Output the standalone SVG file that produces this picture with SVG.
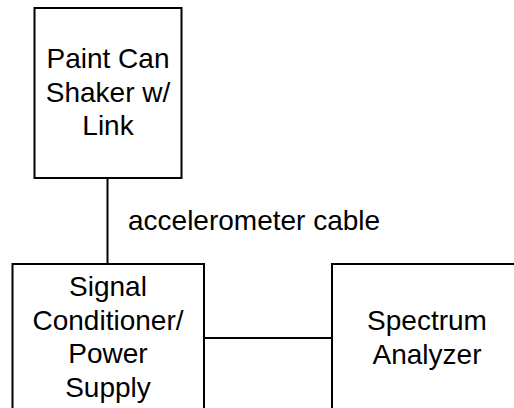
<svg xmlns="http://www.w3.org/2000/svg" width="514" height="408" viewBox="0 0 514 408">
<style>
.box{fill:#fff;stroke:#000;stroke-width:2}
.wire{fill:none;stroke:#000;stroke-width:2}
text{font-family:"Liberation Sans",Arial,sans-serif;font-size:28px;fill:#000}
.c{text-anchor:middle}
</style>
<rect width="514" height="408" fill="#fff"/>
<g id="connectors">
<line class="wire" x1="107.5" y1="178" x2="107.5" y2="264"/>
<line class="wire" x1="204" y1="338" x2="332" y2="338"/>
<text x="128" y="230">accelerometer cable</text>
</g>
<g id="shaker">
<rect class="box" x="34.5" y="8" width="147" height="170"/>
<text class="c" x="108" y="68">Paint Can</text>
<text class="c" x="108" y="101.5">Shaker w/</text>
<text class="c" x="108" y="135">Link</text>
</g>
<g id="conditioner">
<rect class="box" x="12.5" y="264" width="191.5" height="160"/>
<text class="c" x="108" y="296">Signal</text>
<text class="c" x="108" y="329.5">Conditioner/</text>
<text class="c" x="108" y="363">Power</text>
<text class="c" x="108" y="396.5">Supply</text>
</g>
<g id="analyzer">
<rect class="box" x="332" y="264" width="200" height="160"/>
<text class="c" x="427" y="330">Spectrum</text>
<text class="c" x="427" y="363.5">Analyzer</text>
</g>
</svg>
